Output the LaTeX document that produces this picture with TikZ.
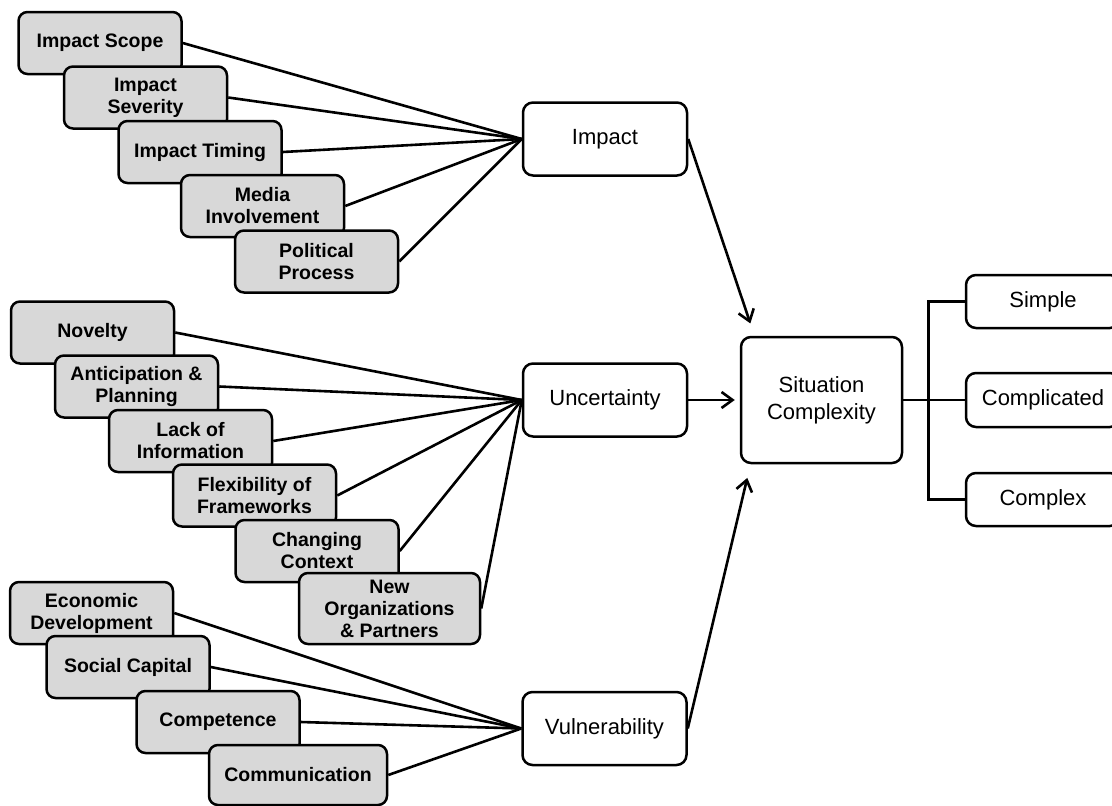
\documentclass[tikz,border=0pt]{standalone}
\usepackage{fontspec}
\setmainfont{Liberation Sans}
\usetikzlibrary{arrows.meta}

\definecolor{boxgray}{RGB}{216,216,216}
\newcommand{\factorfont}{\fontsize{19.5}{22}\selectfont\bfseries}
\newcommand{\stagefont}{\fontsize{22}{27}\selectfont}

\tikzset{
  factor/.style={draw, fill=boxgray, line width=2.5pt, rounded corners=9pt,
    minimum width=163pt, minimum height=62pt, inner sep=0pt, align=center, font=\factorfont},
  stage/.style={draw, fill=white, line width=2.5pt, rounded corners=10pt,
    minimum width=164pt, minimum height=73pt, inner sep=0pt, align=center, font=\stagefont},
  fan/.style={line width=2.6pt},
  flow/.style={line width=2.6pt, -{Straight Barb[length=11pt,width=16pt]}}
}

\begin{document}
\begin{tikzpicture}[x=1pt, y=-1pt]
    \useasboundingbox (0,0) rectangle (1112,806);
    \clip (0,0) rectangle (1112,806);

    % Impact factors
    \node[factor] (scope) at (100,43) {Impact Scope};
    \node[factor] (severity) at (145.5,97.5) {Impact\\Severity};
    \node[factor] (timing) at (200,152) {Impact Timing};
    \node[factor] (media) at (262.5,206) {Media\\Involvement};
    \node[factor] (political) at (316.5,261.5) {Political\\Process};

    % Uncertainty factors
    \node[factor] (novelty) at (92.5,332.5) {Novelty};
    \node[factor] (anticipation) at (136.5,386.5) {Anticipation \&\\Planning};
    \node[factor] (lack) at (190.5,441) {Lack of\\Information};
    \node[factor] (flex) at (254.5,495.5) {Flexibility of\\Frameworks};
    \node[factor] (changing) at (317,551) {Changing\\Context};
    \node[factor, minimum width=181pt, minimum height=71pt] (neworg) at (389.5,608.5) {New\\Organizations\\\& Partners};

    % Vulnerability factors
    \node[factor] (economic) at (91.5,613) {Economic\\Development};
    \node[factor] (social) at (128,667) {Social Capital};
    \node[factor] (competence) at (218,722) {Competence};
    \node[factor, minimum width=178pt, minimum height=60pt] (communication) at (298,775) {Communication};

    % Dimensions
    \node[stage] (impact) at (605,139) {Impact};
    \node[stage] (uncert) at (605,400) {Uncertainty};
    \node[stage] (vuln) at (604.5,728.5) {Vulnerability};

    % Situation and outcomes
    \node[stage, minimum width=161pt, minimum height=126pt] (sit) at (821.5,400) {Situation\\Complexity};
    \node[stage, minimum width=154pt, minimum height=53pt] (simple) at (1043,301.5) {Simple};
    \node[stage, minimum width=154pt, minimum height=54pt] (complicated) at (1043,400) {Complicated};
    \node[stage, minimum width=154pt, minimum height=53pt] (complex) at (1043,499.5) {Complex};

    % Fans into the dimensions
    \foreach \n in {scope, severity, timing, media, political}
        \draw[fan] (\n.east) -- (impact.west);
    \foreach \n in {novelty, anticipation, lack, flex, changing, neworg}
        \draw[fan] (\n.east) -- (uncert.west);
    \foreach \n in {economic, social, competence, communication}
        \draw[fan] (\n.east) -- (vuln.west);

    % Arrows into the situation
    \draw[flow, shorten >=13pt] (impact.east) -- ([xshift=-67pt]sit.north);
    \draw[flow, shorten >=5pt] (uncert.east) -- (sit.west);
    \draw[flow, shorten >=14pt] (vuln.east) -- ([xshift=-71pt]sit.south);

    % Outcome bracket
    \draw[fan] (sit.east) -- (complicated.west);
    \draw[fan] (simple.west) -- ++(-36,0) |- (complex.west);
\end{tikzpicture}
\end{document}
